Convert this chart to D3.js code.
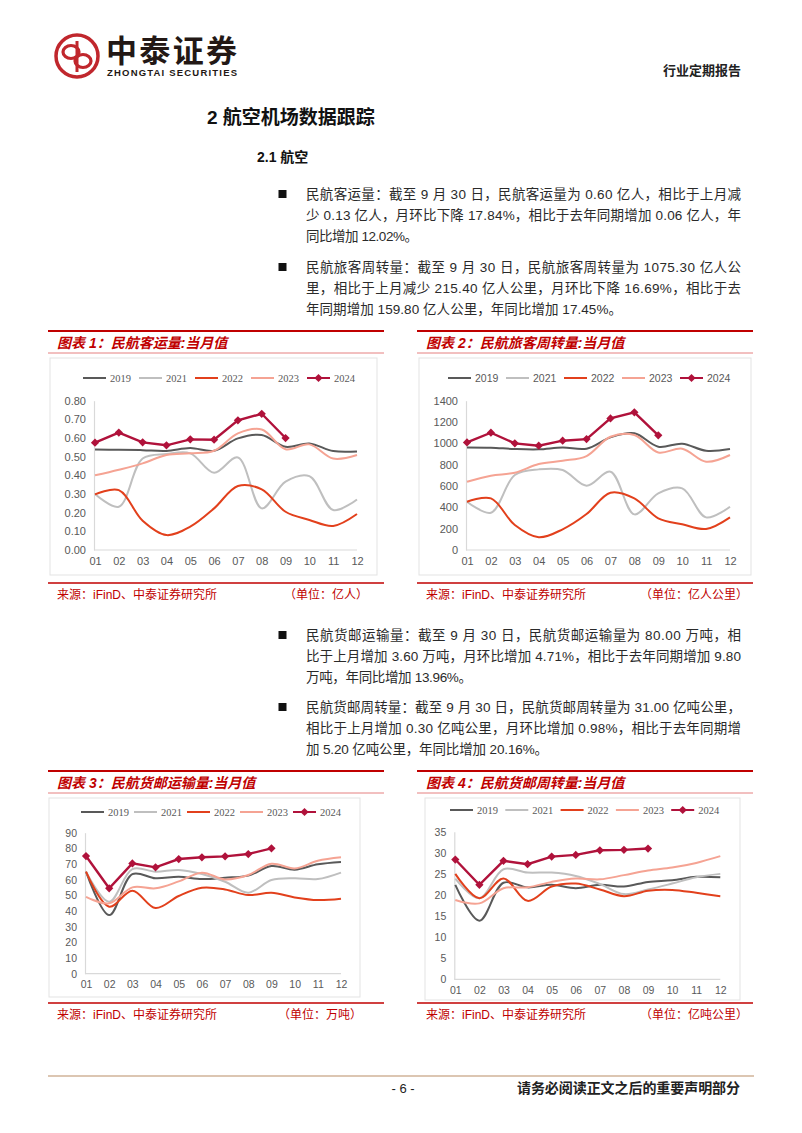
<!DOCTYPE html>
<html>
<head>
<meta charset="utf-8">
<script src="https://cdn.jsdelivr.net/npm/d3@7"></script>
<style>
  body { margin: 0; background: #fff; }
  svg text { font-family: "Liberation Sans", "Noto Sans CJK SC", sans-serif; }
</style>
</head>
<body>
<svg id="page" width="802" height="1133"></svg>
<script>
// ---- data ----
const months = ['01','02','03','04','05','06','07','08','09','10','11','12'];
const yearNames = ['2019','2021','2022','2023','2024'];

// 民航客运量 (亿人)
const pax2019 = [0.538,0.537,0.535,0.531,0.547,0.532,0.598,0.616,0.553,0.571,0.530,0.528];
const pax2021 = [0.300,0.232,0.490,0.514,0.518,0.414,0.496,0.223,0.366,0.396,0.214,0.271];
const pax2022 = [0.298,0.321,0.157,0.080,0.125,0.223,0.343,0.325,0.205,0.161,0.129,0.193];
const pax2023 = [0.400,0.430,0.464,0.509,0.518,0.532,0.625,0.646,0.540,0.566,0.490,0.509];
const pax2024 = [0.575,0.629,0.577,0.561,0.593,0.591,0.695,0.730,0.600];
const paxTicks = [0,0.1,0.2,0.3,0.4,0.5,0.6,0.7,0.8];

// 民航旅客周转量 (亿人公里)
const rpk2019 = [962,959,947,944,962,950,1056,1094,969,997,931,947];
const rpk2021 = [453,350,703,756,750,603,734,334,531,578,306,406];
const rpk2022 = [453,484,234,119,194,337,537,484,297,241,197,306];
const rpk2023 = [640,697,725,806,837,881,1062,1078,915,950,828,891];
const rpk2024 = [1009,1100,1000,978,1025,1040,1234,1291,1075];
const rpkTicks = [0,200,400,600,800,1000,1200,1400];

// 民航货邮运输量 (万吨)
const cargo2019 = [65.1,37.4,63.6,60.9,61.9,60.4,61.3,62.6,68.7,66.4,69.8,71.3];
const cargo2021 = [65.1,46.0,66.8,65.1,66.2,63.6,58.7,51.7,59.8,60.9,60.4,64.5];
const cargo2022 = [65.1,42.8,53.0,41.9,49.6,54.9,53.8,50.2,51.7,48.7,47.0,47.9];
const cargo2023 = [49.1,44.9,55.1,54.5,58.9,64.5,60.2,63.0,70.2,67.2,72.1,74.3];
const cargo2024 = [75.1,54.5,70.4,67.9,73.2,74.3,74.9,76.4,80.0];
const cargoTicks = [0,10,20,30,40,50,60,70,80,90];

// 民航货邮周转量 (亿吨公里)
const ctk2019 = [22.4,13.9,22.9,21.8,22.4,21.6,22.4,22.0,23.1,23.5,24.3,24.2];
const ctk2021 = [23.9,19.2,26.1,25.3,25.3,24.5,22.6,20.2,21.3,22.7,24.2,25.0];
const ctk2022 = [25.0,19.2,23.9,18.6,22.0,22.7,21.3,19.7,21.0,21.2,20.5,19.7];
const ctk2023 = [18.8,18.0,21.6,21.8,23.1,23.9,23.7,24.7,25.8,26.5,27.6,29.2];
const ctk2024 = [28.4,22.4,28.1,27.3,29.1,29.5,30.6,30.7,31.0];
const ctkTicks = [0,5,10,15,20,25,30,35];

// ---- styles ----
const colors = { '2019':'#595959', '2021':'#bfbfbf', '2022':'#e2401c', '2023':'#f5a393', '2024':'#b0123b' };
const red = '#c00000';
const serif = '"Liberation Serif", serif';

const svg = d3.select('#page');

// ---- page header ----
const logo = svg.append('g');
logo.append('circle').attr('cx', 77).attr('cy', 56).attr('r', 21)
  .attr('fill', 'none').attr('stroke', '#c0272d').attr('stroke-width', 3.5);
logo.append('ellipse').attr('cx', 71).attr('cy', 52).attr('rx', 8).attr('ry', 6.5)
  .attr('fill', 'none').attr('stroke', '#c0272d').attr('stroke-width', 3.2);
logo.append('ellipse').attr('cx', 83).attr('cy', 61).attr('rx', 8).attr('ry', 6.5)
  .attr('fill', 'none').attr('stroke', '#c0272d').attr('stroke-width', 3.2);
logo.append('line').attr('x1', 77).attr('x2', 77).attr('y1', 41).attr('y2', 72)
  .attr('stroke', '#c0272d').attr('stroke-width', 3);

svg.append('text').attr('x', 106).attr('y', 51).attr('dominant-baseline', 'central')
  .attr('font-size', 31).attr('font-weight', 'bold').attr('fill', '#231815')
  .attr('textLength', 131).text('中泰证券');
svg.append('text').attr('x', 107).attr('y', 72).attr('dominant-baseline', 'central')
  .attr('font-size', 9.5).attr('font-weight', 'bold').attr('fill', '#231815')
  .attr('textLength', 130).text('ZHONGTAI SECURITIES');
svg.append('text').attr('x', 741).attr('y', 70).attr('dominant-baseline', 'central')
  .attr('text-anchor', 'end').attr('font-size', 13).attr('font-weight', 'bold').attr('fill', '#222')
  .text('行业定期报告');

svg.append('text').attr('x', 207).attr('y', 117).attr('dominant-baseline', 'central')
  .attr('font-size', 19).attr('font-weight', 'bold').attr('fill', '#111')
  .text('2 航空机场数据跟踪');
svg.append('text').attr('x', 257).attr('y', 157).attr('dominant-baseline', 'central')
  .attr('font-size', 14).attr('font-weight', 'bold').attr('fill', '#111')
  .text('2.1 航空');

// ---- bullet paragraphs ----
const paragraphs = [
  { y: 194, lines: [
    ['民航客运量：截至 9 月 30 日，民航客运量为 0.60 亿人，相比于上月减', 741],
    ['少 0.13 亿人，月环比下降 17.84%，相比于去年同期增加 0.06 亿人，年', 741],
    ['同比增加 12.02%。', 418] ] },
  { y: 267, lines: [
    ['民航旅客周转量：截至 9 月 30 日，民航旅客周转量为 1075.30 亿人公', 741],
    ['里，相比于上月减少 215.40 亿人公里，月环比下降 16.69%，相比于去', 741],
    ['年同期增加 159.80 亿人公里，年同比增加 17.45%。', 622] ] },
  { y: 635, lines: [
    ['民航货邮运输量：截至 9 月 30 日，民航货邮运输量为 80.00 万吨，相', 741],
    ['比于上月增加 3.60 万吨，月环比增加 4.71%，相比于去年同期增加 9.80', 741],
    ['万吨，年同比增加 13.96%。', 472] ] },
  { y: 707, lines: [
    ['民航货邮周转量：截至 9 月 30 日，民航货邮周转量为 31.00 亿吨公里，', 741],
    ['相比于上月增加 0.30 亿吨公里，月环比增加 0.98%，相比于去年同期增', 741],
    ['加 5.20 亿吨公里，年同比增加 20.16%。', 548] ] }
];
paragraphs.forEach(p => {
  svg.append('rect').attr('x', 278.5).attr('y', p.y - 4).attr('width', 8).attr('height', 8).attr('fill', '#111');
  p.lines.forEach((l, i) => {
    svg.append('text').attr('x', 306).attr('y', p.y + i * 21.2)
      .attr('dominant-baseline', 'central').attr('font-size', 13.5).attr('fill', '#2a2a2a')
      .attr('textLength', l[1] - 306).attr('lengthAdjust', 'spacing')
      .text(l[0]);
  });
});

// ---- charts ----
const charts = [
  { title: '图表 1：民航客运量:当月值', unit: '（单位：亿人）', frameX: [48, 384], top: 331, bottom: 583, unitX: 368,
    box: [50, 358, 377, 575], plot: { left: 94, right: 357, top: 400.7, bottom: 550 },
    ticks: paxTicks, fmt: d3.format('.2f'), series: [pax2019, pax2021, pax2022, pax2023, pax2024],
    legendX: 83, legendStep: 56, legendY: 378, legendFont: serif, axisFont: 11 },
  { title: '图表 2：民航旅客周转量:当月值', unit: '（单位：亿人公里）', frameX: [417, 753], top: 331, bottom: 583, unitX: 748,
    box: [419, 358, 751, 575], plot: { left: 466, right: 730, top: 400.7, bottom: 550 },
    ticks: rpkTicks, fmt: d3.format('d'), series: [rpk2019, rpk2021, rpk2022, rpk2023, rpk2024],
    legendX: 448, legendStep: 58, legendY: 378, legendFont: '"Liberation Sans", sans-serif', axisFont: 11 },
  { title: '图表 3：民航货邮运输量:当月值', unit: '（单位：万吨）', frameX: [48, 384], top: 771, bottom: 1003, unitX: 362,
    box: [49, 798, 360, 997], plot: { left: 85, right: 341, top: 832.7, bottom: 973.7 },
    ticks: cargoTicks, fmt: d3.format('d'), series: [cargo2019, cargo2021, cargo2022, cargo2023, cargo2024],
    legendX: 81, legendStep: 53, legendY: 812, legendFont: serif, axisFont: 10.5 },
  { title: '图表 4：民航货邮周转量:当月值', unit: '（单位：亿吨公里）', frameX: [417, 753], top: 771, bottom: 1003, unitX: 748,
    box: [425, 798, 740, 1000], plot: { left: 454.3, right: 720.3, top: 831.7, bottom: 979.3 },
    ticks: ctkTicks, fmt: d3.format('d'), series: [ctk2019, ctk2021, ctk2022, ctk2023, ctk2024],
    legendX: 450, legendStep: 55.3, legendY: 810, legendFont: serif, axisFont: 10.5 }
];

const marker = d3.symbol().type(d3.symbolSquare).size(34);

function drawChart(c) {
  const g = svg.append('g');

  // frame: red rules, title, source
  g.append('line').attr('x1', c.frameX[0]).attr('x2', c.frameX[1]).attr('y1', c.top).attr('y2', c.top)
    .attr('stroke', red).attr('stroke-width', 2);
  g.append('text').attr('x', c.frameX[0] + 9).attr('y', c.top + 12).attr('dominant-baseline', 'central')
    .attr('font-size', 14).attr('font-weight', 'bold').attr('font-style', 'italic').attr('fill', red)
    .text(c.title);
  g.append('line').attr('x1', c.frameX[0]).attr('x2', c.frameX[1]).attr('y1', c.top + 22).attr('y2', c.top + 22)
    .attr('stroke', '#e58080').attr('stroke-width', 1);
  g.append('rect').attr('x', c.box[0]).attr('y', c.box[1])
    .attr('width', c.box[2] - c.box[0]).attr('height', c.box[3] - c.box[1])
    .attr('fill', 'none').attr('stroke', '#e3e3e3');
  g.append('line').attr('x1', c.frameX[0]).attr('x2', c.frameX[1]).attr('y1', c.bottom).attr('y2', c.bottom)
    .attr('stroke', red).attr('stroke-width', 1.5);
  g.append('text').attr('x', c.frameX[0] + 9).attr('y', c.bottom + 12).attr('dominant-baseline', 'central')
    .attr('font-size', 12).attr('fill', red).text('来源：iFinD、中泰证券研究所');
  g.append('text').attr('x', c.unitX).attr('y', c.bottom + 12).attr('dominant-baseline', 'central')
    .attr('text-anchor', 'end').attr('font-size', 12).attr('fill', red).text(c.unit);

  // scales
  const x = d3.scalePoint().domain(months).range([c.plot.left + 1, c.plot.right]);
  const y = d3.scaleLinear().domain([0, c.ticks[c.ticks.length - 1]]).range([c.plot.bottom, c.plot.top]);

  // axes
  const yAxisG = g.append('g').attr('transform', `translate(${c.plot.left},0)`)
    .call(d3.axisLeft(y).tickValues(c.ticks).tickFormat(c.fmt).tickSize(0).tickPadding(8));
  const xAxisG = g.append('g').attr('transform', `translate(0,${c.plot.bottom})`)
    .call(d3.axisBottom(x).tickSize(0).tickPadding(7));
  [xAxisG, yAxisG].forEach(a => {
    a.select('.domain').attr('stroke', '#d9d9d9').attr('stroke-width', 1.2);
    a.selectAll('text').attr('font-size', c.axisFont).attr('fill', '#595959')
      .attr('font-family', '"Liberation Sans", sans-serif');
  });
  xAxisG.select('.domain').attr('d', `M${c.plot.left},0H${c.plot.right}`);

  // lines
  c.series.forEach((vals, i) => {
    const name = yearNames[i];
    const is2024 = name === '2024';
    const line = d3.line()
      .x((d, j) => x(months[j]))
      .y(d => y(d))
      .curve(is2024 ? d3.curveLinear : d3.curveCatmullRom.alpha(0.5));
    g.append('path').datum(vals)
      .attr('d', line).attr('fill', 'none')
      .attr('stroke', colors[name]).attr('stroke-width', is2024 ? 2.4 : 2);
    if (is2024) {
      g.selectAll(null).data(vals).enter().append('path')
        .attr('d', marker)
        .attr('transform', (d, j) => `translate(${x(months[j])},${y(d)}) rotate(45)`)
        .attr('fill', colors[name]);
    }
  });

  // legend
  yearNames.forEach((name, i) => {
    const lx = c.legendX + i * c.legendStep;
    g.append('line').attr('x1', lx).attr('x2', lx + 23).attr('y1', c.legendY).attr('y2', c.legendY)
      .attr('stroke', colors[name]).attr('stroke-width', 2);
    if (name === '2024') {
      g.append('path').attr('d', marker)
        .attr('transform', `translate(${lx + 11.5},${c.legendY}) rotate(45)`).attr('fill', colors[name]);
    }
    g.append('text').attr('x', lx + 27).attr('y', c.legendY).attr('dominant-baseline', 'central')
      .attr('font-size', 10.5).attr('fill', '#595959').style('font-family', c.legendFont)
      .text(name);
  });
}

charts.forEach(drawChart);

// ---- page footer ----
svg.append('line').attr('x1', 48).attr('x2', 754).attr('y1', 1076).attr('y2', 1076)
  .attr('stroke', '#dcc6b2').attr('stroke-width', 2);
svg.append('text').attr('x', 403).attr('y', 1088).attr('dominant-baseline', 'central')
  .attr('text-anchor', 'middle').attr('font-size', 13).attr('fill', '#222').text('- 6 -');
svg.append('text').attr('x', 517).attr('y', 1088).attr('dominant-baseline', 'central')
  .attr('font-size', 14).attr('font-weight', 'bold').attr('fill', '#222')
  .attr('textLength', 223).text('请务必阅读正文之后的重要声明部分');
</script>
</body>
</html>
